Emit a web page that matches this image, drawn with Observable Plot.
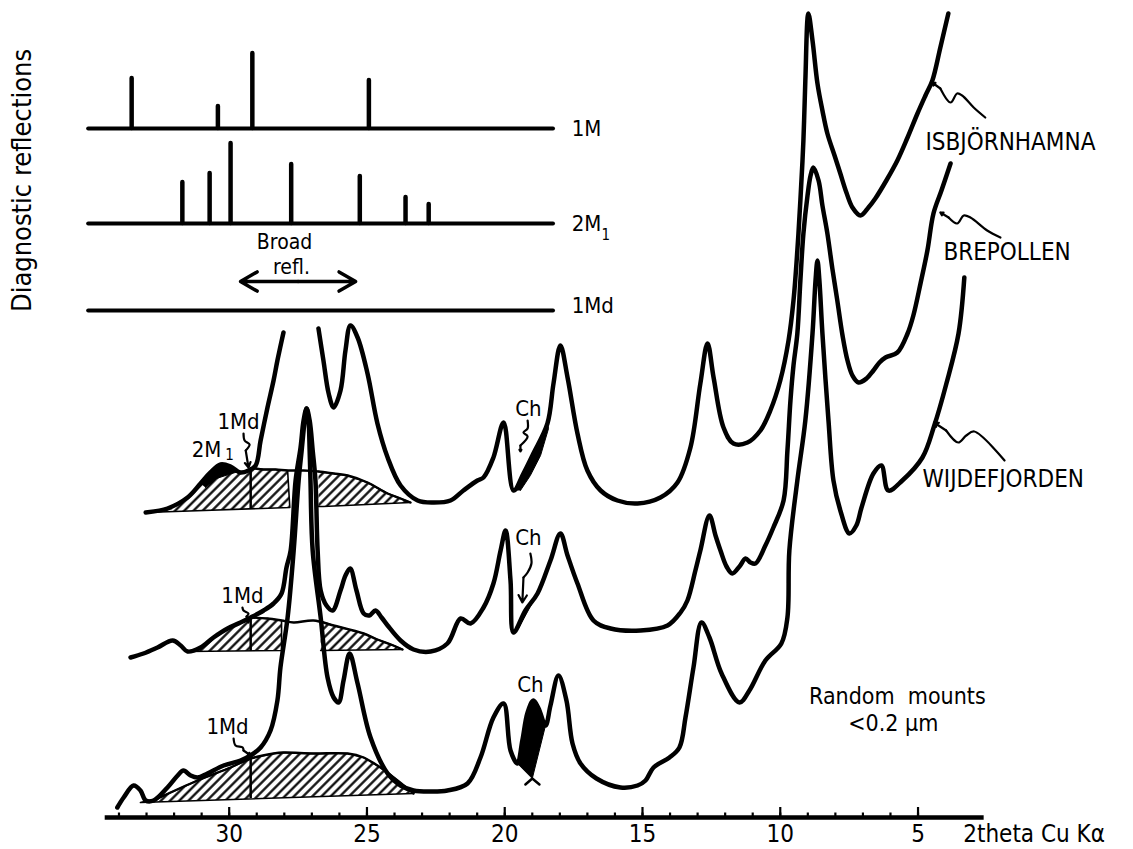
<!DOCTYPE html>
<html><head><meta charset="utf-8">
<script src="https://cdn.jsdelivr.net/npm/d3@7"></script>
<script src="https://cdn.jsdelivr.net/npm/@observablehq/plot@0.6"></script>
<style>body{margin:0;background:#fff}</style>
</head><body><div id="chart"></div>
<script>
// ---- DATA: [2theta (deg, Cu Kα), plotted intensity (arbitrary, stacked)] ----
const isbjornhamna = [[33.03,305],[32.24,309],[31.51,320],[31.04,334],[30.68,345],[30.31,353],[29.95,351],[29.59,345],[29.30,347],[29.04,352],[28.86,377],[28.61,410],[28.39,437],[28.25,457],[28.03,485],
 [null,null],
 [26.76,489],[26.58,457],[26.39,424],[26.21,410],[25.96,427],[25.78,467],[25.60,492],[25.34,480],[24.98,444],[24.62,394],[24.25,360],[23.78,332],[23.16,317],[22.58,315],[21.97,317],[21.50,327],[20.99,337],[20.77,340],[20.41,360],[20.04,395],[19.68,327],[19.32,344],[18.96,364],[18.45,394],[18.23,434],[17.98,472],[17.72,440],[17.36,384],[17.00,347],[16.52,327],[15.91,317],[15.18,314],[14.35,320],[13.73,335],[13.26,370],[12.90,434],[12.64,474],[12.42,440],[12.06,390],[11.70,374],[11.19,375],[10.72,387],[10.36,407],[10.00,437],[9.70,477],[9.52,517],[9.38,567],[9.27,617],[9.16,677],[9.09,737],[8.98,804],[8.83,777],[8.65,734],[8.47,707],[8.29,684],[8.03,662],[7.82,644],[7.60,625],[7.38,610],[7.09,602],[6.80,610],[6.55,619],[6.15,637],[5.75,657],[5.38,680],[5.02,704],[4.73,722],[4.48,737],[4.19,770],[3.90,804]];

const brepollen = [[33.58,160],[33.11,164],[32.60,170],[32.05,177],[31.76,172],[31.51,166],[31.04,170],[30.57,180],[30.06,189],[29.59,195],[29.22,200],[28.75,207],[28.39,214],[28.10,224],[27.92,250],[27.77,267],[27.59,337],[27.41,370],[27.30,397],[27.19,409],[27.08,397],[26.97,367],[26.87,337],[26.79,267],[26.68,227],[26.47,212],[26.25,207],[25.96,227],[25.78,242],[25.61,249],[25.38,227],[25.12,204],[24.91,202],[24.69,207],[24.47,200],[24.25,192],[23.78,177],[23.31,168],[22.69,166],[22.08,174],[21.60,199],[21.24,194],[20.77,210],[20.41,234],[20.15,267],[19.97,287],[19.79,237],[19.68,185],[19.25,207],[18.81,224],[18.34,257],[17.98,284],[17.72,262],[17.36,234],[16.78,197],[16.16,189],[15.07,187],[14.09,192],[13.62,205],[13.37,217],[13.08,247],[12.90,267],[12.57,302],[12.35,282],[12.17,267],[11.95,251],[11.74,244],[11.48,251],[11.26,259],[11.08,255],[10.90,254],[10.54,272],[10.25,290],[9.88,317],[9.74,367],[9.63,417],[9.52,452],[9.38,484],[9.27,537],[9.16,584],[9.01,622],[8.90,642],[8.80,650],[8.61,637],[8.47,612],[8.29,584],[8.11,549],[7.93,517],[7.74,482],[7.56,457],[7.38,442],[7.16,435],[6.87,439],[6.62,447],[6.40,455],[6.18,460],[5.75,465],[5.38,484],[5.17,502],[4.91,534],[4.66,567],[4.44,604],[4.15,627],[3.82,654]];

const wijdefjorden = [[34.06,10],[33.83,20],[33.47,32],[33.22,27],[33.03,17],[32.74,17],[32.24,30],[31.87,42],[31.66,47],[31.40,42],[31.15,40],[30.79,44],[30.20,52],[29.59,57],[29.22,62],[28.86,70],[28.50,87],[28.25,117],[28.14,150],[27.88,200],[27.66,267],[27.48,337],[27.37,367],[27.26,397],[27.19,409],[27.12,397],[27.08,367],[27.05,337],[26.97,267],[26.68,200],[26.43,140],[26.21,120],[26.03,115],[25.85,137],[25.63,164],[25.34,134],[24.87,80],[24.25,44],[23.78,32],[23.31,27],[22.69,26],[22.08,27],[21.35,34],[20.88,60],[20.41,100],[20.04,114],[19.79,67],[19.54,54],[19.36,77],[19.17,105],[18.96,117],[18.77,109],[18.52,92],[18.34,112],[18.05,142],[17.76,117],[17.54,74],[17.25,54],[16.67,39],[15.80,30],[15.18,32],[14.89,37],[14.60,50],[14.02,60],[13.66,70],[13.44,100],[13.15,150],[12.86,195],[12.57,180],[12.13,144],[11.48,115],[11.12,127],[10.54,157],[9.96,174],[9.74,200],[9.67,267],[9.38,337],[9.09,397],[8.83,484],[8.72,537],[8.65,557],[8.58,537],[8.47,484],[8.25,397],[8.07,337],[7.82,307],[7.49,284],[7.24,292],[7.05,310],[6.62,344],[6.33,352],[6.08,327],[5.57,337],[4.84,360],[4.41,392],[3.97,434],[3.53,484],[3.32,540]];

// broad 1Md reflection (hatched) areas
const topHatchLeft = [[33.03,305],[32.24,309],[31.51,320],[31.04,334],[30.68,345],[30.31,353],[29.95,351],[29.59,345],[29.30,347],[29.04,349],[28.75,348],[28.32,348],[27.88,347],[27.80,310],[33.03,305]];
const topHatchRight = [[26.76,346],[26.21,344],[25.70,342],[24.98,335],[24.25,324],[23.78,319],[23.42,315],[26.58,311],[26.76,311]];
const topHump = [[29.04,349],[28.75,348],[28.32,348],[27.88,347],[27.30,347],[26.76,346],[26.21,344],[25.70,342],[24.98,335],[24.25,324],[23.78,319],[23.42,315]];
const midHatchLeft = [[31.51,166],[31.04,170],[30.57,180],[30.06,189],[29.59,195],[29.22,200],[28.61,199],[28.10,197],[28.10,167],[31.51,166]];
const midHatchRight = [[26.68,196],[26.21,192],[25.12,184],[24.62,178],[24.04,172],[23.71,168],[26.68,167]];
const midHump = [[29.22,200],[28.61,199],[28.10,197],[27.66,195],[26.94,197],[26.21,192],[25.12,184],[24.62,178],[24.04,172],[23.71,168]];
const botHatch = [[33.22,15],[32.60,19],[31.15,37],[29.95,50],[29.22,59],[28.39,64],[28.03,65],[26.94,64],[25.70,64],[25.12,60],[24.51,50],[23.89,37],[23.31,24],[33.22,15]];
const botHump = [[32.60,19],[31.15,37],[29.95,50],[29.22,59],[28.39,64],[28.03,65],[26.94,64],[25.70,64],[25.12,60],[24.51,50],[23.89,37],[23.31,24]];
const md1Position = 29.22;
const md1Marks = [[309,347],[166,200],[19,59]];

// solid (chlorite / 2M1) peaks
const chTopFill = [[19.68,327],[19.32,344],[18.96,364],[18.45,394],[18.41,389],[18.70,362],[19.07,342],[19.43,327]];
const chMidFill = [[19.68,185],[19.25,207],[18.81,224],[18.52,240],[18.70,229],[19.07,211],[19.50,189]];
const chBotFill = [[19.54,54],[19.36,77],[19.17,105],[18.96,117],[18.77,109],[18.52,92],[19.00,39],[19.54,54]];
const chBotTail = [[19.25,33],[19.00,39],[18.74,33]];
const m2Fill = [[31.04,334],[30.68,345],[30.31,353],[29.95,351],[29.66,346],[30.02,343],[30.46,339],[30.86,330]];

// diagnostic reflection patterns: [2theta, relative height]
const patternNames = ["1M", "2M", "1Md"];
const patternLevels = [689, 594, 507];
const patternSpan = [35.1, 18.23];
const pattern1M = [[33.54,50],[30.41,22],[29.16,75],[24.93,48]];
const pattern2M1 = [[31.70,41],[30.71,50],[29.95,80],[27.75,59],[25.26,47],[23.60,26],[22.76,19]];
const broadReflRange = [29.59, 25.41];

// axis
const axisExtent = [34.5, 2.6];
const minorTicks = d3.range(5, 35);
const majorTicks = [30, 25, 20, 15, 10, 5];

// annotations
const curveLabels = [["ISBJÖRNHAMNA",4.73,675],["BREPOLLEN",4.08,565],["WIJDEFJORDEN",4.84,338]];
const phaseLabels = [["Ch",19.14,409],["Ch",19.14,280],["Ch",19.07,133],["1Md",29.66,396],["1Md",29.52,222],["1Md",30.06,91],["2M",30.82,368]];
const callouts = [
  [[2.56,700],[2.98,710],[3.40,722],[3.58,724],[3.82,715],[4.19,729],[4.49,735]],
  [[2.01,580],[2.49,587],[3.10,600],[3.34,602],[3.58,594],[3.89,600],[4.19,605]],
  [[1.86,357],[2.96,386],[3.25,382],[3.54,375],[3.98,387],[4.42,395]],
  [[19.17,397],[19.17,389],[19.32,385],[19.17,381],[19.43,372],[19.43,366]],
  [[19.07,264],[19.03,254],[19.17,245],[19.32,240],[19.36,215]],
  [[29.48,384],[29.44,377],[29.26,373],[29.40,367],[29.30,350]],
  [[29.52,210],[29.48,207],[29.30,204],[29.37,201],[29.30,195]],
  [[29.84,79],[29.77,72],[29.51,70],[29.48,67],[29.22,62]]
];

// ---- CHART ----
const FONT = "'DejaVu Sans Condensed','Liberation Sans Narrow','DejaVu Sans',sans-serif";
const X = d => d[0], Y = d => d[1];
const K = "black";

const marks = [];
for (const p of [topHatchLeft, topHatchRight, midHatchLeft, midHatchRight, botHatch])
  marks.push(Plot.line(p, {x: X, y: Y, fill: "url(#hatch)", stroke: K, strokeWidth: 1.6, curve: "linear"}));
for (const p of [chTopFill, chMidFill, chBotFill, m2Fill])
  marks.push(Plot.line(p, {x: X, y: Y, fill: K, stroke: K, strokeWidth: 1, curve: "linear"}));
marks.push(Plot.line(chBotTail, {x: X, y: Y, stroke: K, strokeWidth: 2.5}));
for (const p of [topHump, midHump, botHump])
  marks.push(Plot.line(p, {x: X, y: Y, stroke: K, strokeWidth: 2.4, curve: "catmull-rom"}));
marks.push(Plot.ruleX(md1Marks, {x: () => md1Position, y1: d => d[0], y2: d => d[1], stroke: K, strokeWidth: 2.5}));
for (const tr of [isbjornhamna, brepollen, wijdefjorden])
  marks.push(Plot.line(tr, {x: X, y: Y, stroke: K, strokeWidth: 4.5, curve: "catmull-rom"}));

// diagnostic patterns
marks.push(Plot.ruleY(patternLevels, {x1: patternSpan[0], x2: patternSpan[1], y: d => d, stroke: K, strokeWidth: 4, strokeLinecap: "round"}));
marks.push(Plot.ruleX(pattern1M, {x: X, y1: patternLevels[0], y2: d => patternLevels[0] + d[1], stroke: K, strokeWidth: 4.5, strokeLinecap: "round"}));
marks.push(Plot.ruleX(pattern2M1, {x: X, y1: patternLevels[1], y2: d => patternLevels[1] + d[1], stroke: K, strokeWidth: 4.5, strokeLinecap: "round"}));
marks.push(Plot.text(patternNames, {x: 17.57, y: (d, i) => patternLevels[i] + [0, 0, 5][i], text: d => d, textAnchor: "start", fontSize: 22, fontFamily: FONT}));
marks.push(Plot.text(["1"], {x: 16.49, y: patternLevels[1] - 12, text: d => d, textAnchor: "start", fontSize: 15, fontFamily: FONT}));
marks.push(Plot.text(["Broad", "refl."], {x: [27.99, 27.74], y: [575, 550], text: d => d, fontSize: 21, fontFamily: FONT}));
marks.push(Plot.arrow(broadReflRange, {x1: (broadReflRange[0] + broadReflRange[1]) / 2, x2: d => d, y1: 536, y2: 536, stroke: K, strokeWidth: 3.5, headLength: 12}));

// labels and callouts
marks.push(Plot.text(curveLabels, {x: d => d[1], y: d => d[2], text: d => d[0], textAnchor: "start", fontSize: 24, fontFamily: FONT}));
marks.push(Plot.text(phaseLabels, {x: d => d[1], y: d => d[2], text: d => d[0], fontSize: 22, fontFamily: FONT}));
marks.push(Plot.text(["1"], {x: 29.99, y: 362, text: d => d, fontSize: 15, fontFamily: FONT}));
for (const c of callouts) {
  marks.push(Plot.line(c.slice(0, -1), {x: X, y: Y, stroke: K, strokeWidth: 2.2, curve: "catmull-rom"}));
  const n = c.length;
  marks.push(Plot.arrow([c], {x1: d => d[n - 2][0], y1: d => d[n - 2][1], x2: d => d[n - 1][0], y2: d => d[n - 1][1], stroke: K, strokeWidth: 2.2, headLength: 9}));
}
marks.push(Plot.text(["Random  mounts", "<0.2 µm"], {x: [5.75, 5.90], y: [121, 94], text: d => d, fontSize: 23, fontFamily: FONT}));
marks.push(Plot.text(["Diagnostic reflections"], {x: 37.5, y: 637, text: d => d, rotate: -90, fontSize: 27, fontFamily: FONT}));

// axis
marks.push(Plot.ruleY([0], {x1: axisExtent[0], x2: axisExtent[1], stroke: K, strokeWidth: 4.5}));
marks.push(Plot.ruleX(minorTicks, {x: d => d, y1: 0, y2: 4.5, stroke: K, strokeWidth: 2.2}));
marks.push(Plot.ruleX(majorTicks, {x: d => d, y1: 0, y2: 10, stroke: K, strokeWidth: 2.2}));
marks.push(Plot.text(majorTicks, {x: d => d, y: -17, text: d => String(d), fontSize: 24, fontFamily: FONT}));
marks.push(Plot.text(["2theta Cu Kα"], {x: 3.36, y: -17, text: d => d, textAnchor: "start", fontSize: 24, fontFamily: FONT}));

const chart = Plot.plot({
  width: 1133, height: 849,
  marginTop: 0, marginRight: 0, marginBottom: 0, marginLeft: 0,
  x: {domain: [38.3, -2.82], axis: null},
  y: {domain: [-32, 817], axis: null},
  style: {fontFamily: FONT, background: "white", color: "black"},
  marks
});
d3.select(chart).insert("defs", ":first-child").html(
  '<pattern id="hatch" width="6.5" height="6.5" patternUnits="userSpaceOnUse" patternTransform="rotate(45)">' +
  '<line x1="3.25" y1="-1" x2="3.25" y2="7.5" stroke="black" stroke-width="2.2"/></pattern>');
document.getElementById("chart").appendChild(chart);
</script></body></html>
